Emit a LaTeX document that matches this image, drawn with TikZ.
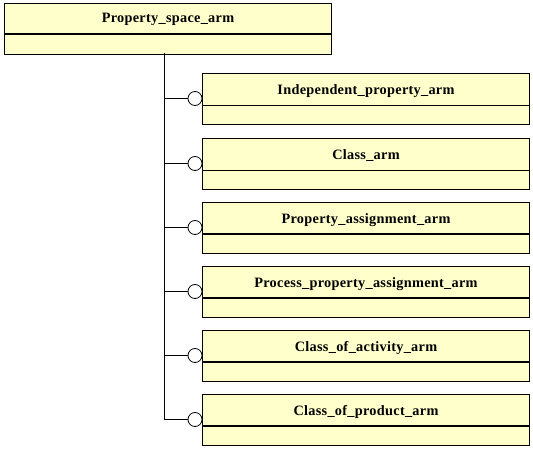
\documentclass[tikz,border=0pt]{standalone}
\usepackage{fontspec}
\setmainfont{Liberation Serif}[LetterSpace=2]
\usetikzlibrary{positioning}
\definecolor{armfill}{HTML}{FFFFCC}
\definecolor{armline}{HTML}{000000}

\begin{document}
\begin{tikzpicture}[x=1pt, y=-1pt, font=\bfseries\fontsize{14.3}{16}\selectfont,
    armbox/.style={draw=armline, fill=armfill, line width=1pt, minimum width=327pt, minimum height=51pt, inner sep=0pt, anchor=north west},
    plug/.style={draw=armline, fill=white, line width=0.8pt}]

    \useasboundingbox (0,0) rectangle (533,449);

    % Supertype
    \node[armbox] (space) at (4,3) {};
    \draw[line width=2pt, armline] ([yshift=-31pt]space.north west) -- ([yshift=-31pt]space.north east);
    \node (spacetitle) at ([yshift=-16.5pt]space.north) {Property\_space\_arm};

    % Trunk
    \coordinate (trunk) at (164,53);
    \coordinate (trunkend) at (164,420);
    \draw[line width=0.8pt, armline] (trunk) -- (trunkend);

    % Subtypes
    \foreach \n/\t/\title/\w in {
        indep/73/Independent\_property\_arm/0.8pt,
        cls/138/Class\_arm/0.8pt,
        assign/202/Property\_assignment\_arm/2pt,
        process/266/Process\_property\_assignment\_arm/2pt,
        activity/330/Class\_of\_activity\_arm/2pt,
        product/394/Class\_of\_product\_arm/2pt} {
        \coordinate (\n branch) at (164,\t+25.5);
        \node[plug, circle, minimum size=14pt, inner sep=0pt] (\n plug) at (195,\t+25.5) {};
        \draw[line width=0.8pt, armline] (\n branch) -- (\n plug.west);
        \node[armbox] (\n) at (202,\t) {};
        \draw[line width=\w, armline] ([yshift=-32pt]\n.north west) -- ([yshift=-32pt]\n.north east);
        \node (\n title) at ([yshift=-18pt]\n.north) {\title};
    }

\end{tikzpicture}
\end{document}
